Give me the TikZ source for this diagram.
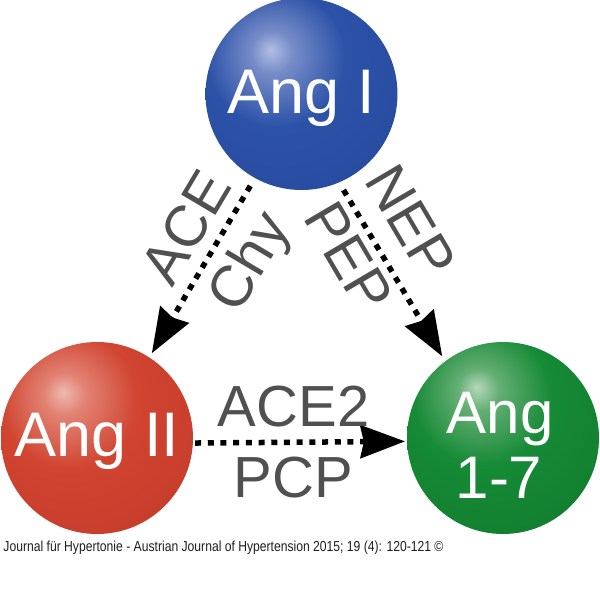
\documentclass[tikz,border=0pt]{standalone}
\usepackage{fontspec}
\usepackage{graphicx}
\setmainfont{Liberation Sans}
\usetikzlibrary{arrows.meta}
\definecolor{blueBase}{RGB}{44,82,168}
\definecolor{blueMid}{RGB}{118,140,200}
\definecolor{blueHL}{RGB}{178,190,228}
\definecolor{blueEdge}{RGB}{40,76,160}
\definecolor{redBase}{RGB}{208,68,48}
\definecolor{redMid}{RGB}{226,130,115}
\definecolor{redHL}{RGB}{238,186,176}
\definecolor{redEdge}{RGB}{200,62,44}
\definecolor{greenBase}{RGB}{22,138,54}
\definecolor{greenMid}{RGB}{100,174,116}
\definecolor{greenHL}{RGB}{180,216,186}
\definecolor{greenEdge}{RGB}{18,128,48}
\definecolor{labgray}{RGB}{80,80,80}
\definecolor{footgray}{RGB}{30,30,30}
\pgfdeclareradialshading{blueball}{\pgfpoint{-8.1bp}{11.5bp}}{color(0bp)=(blueHL); color(5.5bp)=(blueMid); color(18bp)=(blueBase); color(34bp)=(blueEdge); color(100bp)=(blueEdge)}
\pgfdeclareradialshading{redball}{\pgfpoint{-8.9bp}{12bp}}{color(0bp)=(redHL); color(5.5bp)=(redMid); color(18bp)=(redBase); color(34bp)=(redEdge); color(100bp)=(redEdge)}
\pgfdeclareradialshading{greenball}{\pgfpoint{-6.8bp}{13.3bp}}{color(0bp)=(greenHL); color(5.5bp)=(greenMid); color(18bp)=(greenBase); color(34bp)=(greenEdge); color(100bp)=(greenEdge)}
\tikzset{
  ball/.style={circle, minimum size=192pt, inner sep=0pt, text=white, font=\fontsize{63}{66}\selectfont},
  flow/.style={line width=5.5pt, dash pattern=on 6pt off 6.7pt,
    -{Stealth[length=45pt,width=34pt,inset=4pt,line width=0pt]}},
  lab/.style={font=\fontsize{58}{60}\selectfont, text=labgray, inner sep=0pt, anchor=base}
}
\begin{document}
\begin{tikzpicture}[x=1pt,y=-1pt]
\useasboundingbox (0,0) rectangle (600,595);
\node[ball, shading=blueball] (angI) at (301.5,94) {\raisebox{-19pt}[0pt][0pt]{Ang I}};
\node[ball, shading=redball] (angII) at (97,438) {\raisebox{-18.7pt}[0pt][0pt]{Ang II}};
\node[ball, shading=greenball, font=\fontsize{60}{62}\selectfont] (ang17) at (503,438)
  {\makebox[0pt]{\hspace*{-6pt}\raisebox{5pt}[0pt][0pt]{Ang}}\makebox[0pt]{\hspace*{-8pt}\raisebox{-60pt}[0pt][0pt]{1-7}}};
\draw[flow, shorten <=9pt, shorten >=5pt] (angI.241.3) -- (angII.57.1);
\draw[flow, shorten <=8.7pt, shorten >=5.8pt] (angI.293.5) -- (ang17.127);
\draw[flow, shorten <=2pt, shorten >=2pt] (angII.357.5) -- (ang17.182.5);
\node[lab, rotate=59.3] (ace) at (203.3,237.1) {ACE};
\node[lab, rotate=59.3] (chy) at (264.8,270.7) {Chy};
\node[lab, rotate=-59.5] (nep) at (394,231.5) {NEP};
\node[lab, rotate=-59.5] (pep) at (331.5,267) {PEP};
\node[lab] (ace2) at (293.7,426) {ACE2};
\node[lab] (pcp) at (293.3,497.3) {PCP};
\node[anchor=base west, inner sep=0pt, font=\fontsize{14.5}{16}\selectfont, text=footgray] (foot) at (3.3,551.5)
  {\resizebox{440pt}{\height}{Journal für Hypertonie - Austrian Journal of Hypertension 2015; 19 (4): 120-121 ©}};
\end{tikzpicture}
\end{document}
